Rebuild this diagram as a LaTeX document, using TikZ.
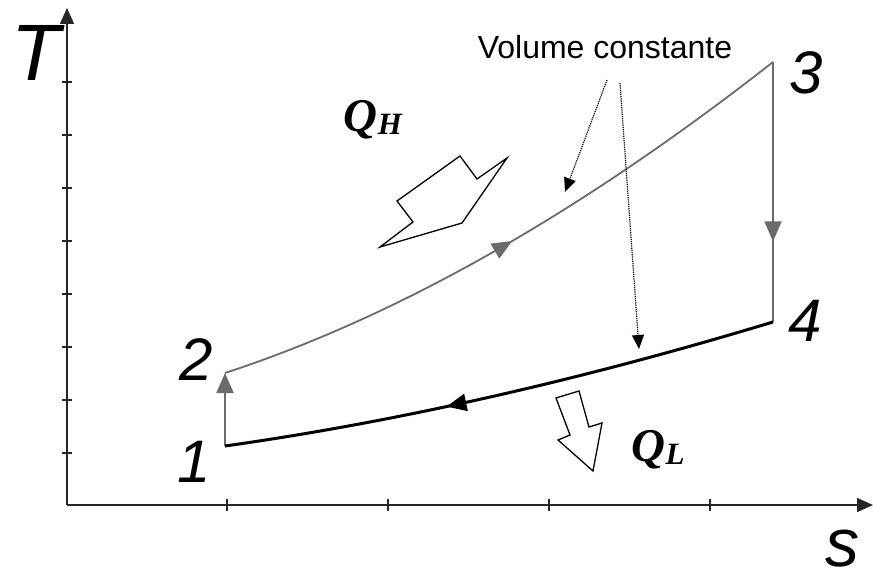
\documentclass[tikz,border=0pt]{standalone}
\usepackage{fontspec}
\setmainfont{Liberation Sans}
\newfontfamily\qfont{Liberation Serif}
\usetikzlibrary{arrows.meta, decorations.markings}

\begin{document}
\begin{tikzpicture}[x=1pt, y=-1pt,
    axisline/.style={line width=1.6pt, black!85, -{Triangle[length=16pt, width=14pt]}},
    ticklin/.style={line width=1.2pt, black!85},
    cycline/.style={line width=1.8pt, black!58},
    coldline/.style={line width=3pt, black},
    midarrow/.style={postaction={decorate}, decoration={markings,
        mark=at position #1 with {\arrow{Triangle[length=20pt, width=17pt]}}}},
    numlbl/.style={font=\fontsize{60}{60}\selectfont\itshape, inner sep=0pt},
    heatarrow/.style={draw, line width=1.3pt, fill=white, line join=miter},
    qlbl/.style={font=\qfont\bfseries\itshape\fontsize{47}{47}\selectfont, inner sep=0pt},
    hintline/.style={densely dotted, line width=1.2pt, -{Triangle[length=14pt, width=12pt]}}
  ]
  \useasboundingbox (0,0) rectangle (873,583);

  % axes
  \coordinate (origin) at (67,505);
  \coordinate (ttop) at (67,8);
  \coordinate (sright) at (873,505);
  \draw[axisline] (origin) -- (ttop);
  \draw[axisline] (origin) -- (sright);
  \foreach \ty in {82,135,188,241,294,347,400,453}
    \draw[ticklin] (62,\ty) -- (72,\ty);
  \foreach \sx in {227,388,549,710}
    \draw[ticklin] (\sx,499) -- (\sx,511);
  \node[font=\fontsize{80}{80}\selectfont\itshape, inner sep=0pt] (tlbl) at (36,53) {T};
  \node[font=\fontsize{68}{68}\selectfont\itshape, inner sep=0pt] (slbl) at (842,549) {s};

  % cycle corners
  \coordinate (p1) at (225,446);
  \coordinate (p2) at (225,373);
  \coordinate (p3) at (773,62);
  \coordinate (p4) at (773,322);
  \node[numlbl] (n1) at (194,462) {1};
  \node[numlbl] (n2) at (196,360) {2};
  \node[numlbl] (n3) at (806,73) {3};
  \node[numlbl] (n4) at (805,321) {4};

  % cycle
  \draw[cycline, -{Triangle[length=20pt, width=17pt]}] (p1) -- (p2);
  \draw[cycline, midarrow=0.5] (p2) .. controls (402,315) and (584,210) .. (p3);
  \draw[cycline, midarrow=0.69] (p3) -- (p4);
  \draw[coldline, midarrow=0.6] (p4) .. controls (578,381) and (395,422) .. (p1);

  % heat in and out
  \draw[heatarrow] (380,247) -- (462,223) -- (507,158) -- (477,179) -- (460,156)
    -- (397,201) -- (413,222) -- cycle;
  \draw[heatarrow] (556,398) -- (579,391) -- (589,427) -- (602,423) -- (593,471)
    -- (558,440) -- (570,435) -- cycle;
  \node[qlbl] (qh) at (373,120) {Q\raisebox{-0.15ex}{\fontsize{31}{31}\selectfont H}};
  \node[qlbl] (ql) at (658,450) {Q\raisebox{-0.15ex}{\fontsize{31}{31}\selectfont L}};

  % constant volume
  \node[font=\fontsize{32}{32}\selectfont, inner sep=0pt] (vc) at (605,47) {Volume constante};
  \coordinate (vca) at (607,80);
  \coordinate (vcb) at (620,83);
  \coordinate (onhot) at (565,192);
  \coordinate (oncold) at (639,349);
  \draw[hintline] (vca) -- (onhot);
  \draw[hintline] (vcb) -- (oncold);
\end{tikzpicture}
\end{document}
